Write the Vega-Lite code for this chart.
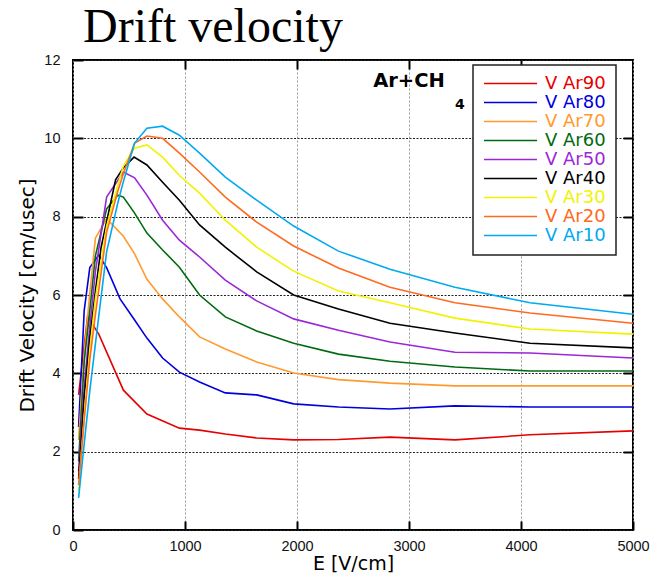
{
  "$schema": "https://vega.github.io/schema/vega-lite/v6.json",
  "width": 560,
  "height": 470,
  "autosize": {"type": "none"},
  "padding": {"left": 73, "top": 60, "right": 36, "bottom": 53},
  "background": "white",
  "title": {"text": "Drift velocity", "font": "Liberation Serif", "fontSize": 48, "fontWeight": "normal", "color": "black", "anchor": "start", "frame": "group", "dx": 10, "offset": 0},
  "config": {"view": {"stroke": "black", "strokeWidth": 2}, "font": "DejaVu Sans"},
  "datasets": {
    "drift": [
      {"series": "V Ar90", "E": 50, "v": 3.45}, {"series": "V Ar90", "E": 130, "v": 5.45}, {"series": "V Ar90", "E": 230, "v": 5.0}, {"series": "V Ar90", "E": 450, "v": 3.57}, {"series": "V Ar90", "E": 660, "v": 2.96}, {"series": "V Ar90", "E": 950, "v": 2.6}, {"series": "V Ar90", "E": 1130, "v": 2.55}, {"series": "V Ar90", "E": 1360, "v": 2.45}, {"series": "V Ar90", "E": 1640, "v": 2.35}, {"series": "V Ar90", "E": 1970, "v": 2.3}, {"series": "V Ar90", "E": 2370, "v": 2.31}, {"series": "V Ar90", "E": 2830, "v": 2.37}, {"series": "V Ar90", "E": 3410, "v": 2.3}, {"series": "V Ar90", "E": 4080, "v": 2.43}, {"series": "V Ar90", "E": 5000, "v": 2.53},
      {"series": "V Ar80", "E": 50, "v": 2.63}, {"series": "V Ar80", "E": 100, "v": 5.6}, {"series": "V Ar80", "E": 150, "v": 6.7}, {"series": "V Ar80", "E": 230, "v": 7.02}, {"series": "V Ar80", "E": 300, "v": 6.7}, {"series": "V Ar80", "E": 420, "v": 5.9}, {"series": "V Ar80", "E": 550, "v": 5.36}, {"series": "V Ar80", "E": 660, "v": 4.9}, {"series": "V Ar80", "E": 800, "v": 4.39}, {"series": "V Ar80", "E": 950, "v": 4.03}, {"series": "V Ar80", "E": 1130, "v": 3.78}, {"series": "V Ar80", "E": 1360, "v": 3.5}, {"series": "V Ar80", "E": 1640, "v": 3.45}, {"series": "V Ar80", "E": 1970, "v": 3.22}, {"series": "V Ar80", "E": 2370, "v": 3.14}, {"series": "V Ar80", "E": 2830, "v": 3.09}, {"series": "V Ar80", "E": 3410, "v": 3.17}, {"series": "V Ar80", "E": 4080, "v": 3.14}, {"series": "V Ar80", "E": 5000, "v": 3.14},
      {"series": "V Ar70", "E": 50, "v": 2.3}, {"series": "V Ar70", "E": 100, "v": 4.5}, {"series": "V Ar70", "E": 150, "v": 6.05}, {"series": "V Ar70", "E": 200, "v": 7.45}, {"series": "V Ar70", "E": 300, "v": 7.95}, {"series": "V Ar70", "E": 450, "v": 7.5}, {"series": "V Ar70", "E": 550, "v": 7.05}, {"series": "V Ar70", "E": 660, "v": 6.4}, {"series": "V Ar70", "E": 800, "v": 5.9}, {"series": "V Ar70", "E": 950, "v": 5.44}, {"series": "V Ar70", "E": 1130, "v": 4.93}, {"series": "V Ar70", "E": 1360, "v": 4.62}, {"series": "V Ar70", "E": 1640, "v": 4.29}, {"series": "V Ar70", "E": 1970, "v": 4.01}, {"series": "V Ar70", "E": 2370, "v": 3.84}, {"series": "V Ar70", "E": 2830, "v": 3.75}, {"series": "V Ar70", "E": 3410, "v": 3.68}, {"series": "V Ar70", "E": 4080, "v": 3.68}, {"series": "V Ar70", "E": 5000, "v": 3.68},
      {"series": "V Ar60", "E": 50, "v": 1.75}, {"series": "V Ar60", "E": 100, "v": 4.3}, {"series": "V Ar60", "E": 150, "v": 5.6}, {"series": "V Ar60", "E": 200, "v": 7.0}, {"series": "V Ar60", "E": 300, "v": 8.2}, {"series": "V Ar60", "E": 400, "v": 8.55}, {"series": "V Ar60", "E": 450, "v": 8.5}, {"series": "V Ar60", "E": 550, "v": 8.09}, {"series": "V Ar60", "E": 660, "v": 7.58}, {"series": "V Ar60", "E": 800, "v": 7.15}, {"series": "V Ar60", "E": 950, "v": 6.71}, {"series": "V Ar60", "E": 1130, "v": 6.0}, {"series": "V Ar60", "E": 1360, "v": 5.44}, {"series": "V Ar60", "E": 1640, "v": 5.08}, {"series": "V Ar60", "E": 1970, "v": 4.77}, {"series": "V Ar60", "E": 2370, "v": 4.49}, {"series": "V Ar60", "E": 2830, "v": 4.31}, {"series": "V Ar60", "E": 3410, "v": 4.16}, {"series": "V Ar60", "E": 4080, "v": 4.06}, {"series": "V Ar60", "E": 5000, "v": 4.06},
      {"series": "V Ar50", "E": 50, "v": 1.5}, {"series": "V Ar50", "E": 100, "v": 3.65}, {"series": "V Ar50", "E": 150, "v": 5.2}, {"series": "V Ar50", "E": 200, "v": 6.6}, {"series": "V Ar50", "E": 300, "v": 8.5}, {"series": "V Ar50", "E": 450, "v": 9.14}, {"series": "V Ar50", "E": 550, "v": 8.99}, {"series": "V Ar50", "E": 660, "v": 8.55}, {"series": "V Ar50", "E": 800, "v": 7.91}, {"series": "V Ar50", "E": 950, "v": 7.4}, {"series": "V Ar50", "E": 1130, "v": 6.97}, {"series": "V Ar50", "E": 1360, "v": 6.38}, {"series": "V Ar50", "E": 1640, "v": 5.85}, {"series": "V Ar50", "E": 1970, "v": 5.39}, {"series": "V Ar50", "E": 2370, "v": 5.1}, {"series": "V Ar50", "E": 2830, "v": 4.8}, {"series": "V Ar50", "E": 3410, "v": 4.54}, {"series": "V Ar50", "E": 4080, "v": 4.52}, {"series": "V Ar50", "E": 5000, "v": 4.39},
      {"series": "V Ar40", "E": 50, "v": 1.3}, {"series": "V Ar40", "E": 100, "v": 3.4}, {"series": "V Ar40", "E": 150, "v": 4.9}, {"series": "V Ar40", "E": 200, "v": 6.1}, {"series": "V Ar40", "E": 250, "v": 7.2}, {"series": "V Ar40", "E": 380, "v": 8.94}, {"series": "V Ar40", "E": 450, "v": 9.25}, {"series": "V Ar40", "E": 545, "v": 9.52}, {"series": "V Ar40", "E": 660, "v": 9.32}, {"series": "V Ar40", "E": 800, "v": 8.88}, {"series": "V Ar40", "E": 950, "v": 8.42}, {"series": "V Ar40", "E": 1130, "v": 7.79}, {"series": "V Ar40", "E": 1360, "v": 7.22}, {"series": "V Ar40", "E": 1640, "v": 6.59}, {"series": "V Ar40", "E": 1970, "v": 6.0}, {"series": "V Ar40", "E": 2370, "v": 5.64}, {"series": "V Ar40", "E": 2830, "v": 5.28}, {"series": "V Ar40", "E": 3410, "v": 5.03}, {"series": "V Ar40", "E": 4080, "v": 4.77}, {"series": "V Ar40", "E": 5000, "v": 4.65},
      {"series": "V Ar30", "E": 50, "v": 1.0}, {"series": "V Ar30", "E": 100, "v": 2.9}, {"series": "V Ar30", "E": 150, "v": 4.6}, {"series": "V Ar30", "E": 200, "v": 5.9}, {"series": "V Ar30", "E": 300, "v": 7.75}, {"series": "V Ar30", "E": 400, "v": 8.8}, {"series": "V Ar30", "E": 450, "v": 9.3}, {"series": "V Ar30", "E": 550, "v": 9.75}, {"series": "V Ar30", "E": 660, "v": 9.83}, {"series": "V Ar30", "E": 800, "v": 9.52}, {"series": "V Ar30", "E": 950, "v": 9.05}, {"series": "V Ar30", "E": 1130, "v": 8.6}, {"series": "V Ar30", "E": 1360, "v": 7.91}, {"series": "V Ar30", "E": 1640, "v": 7.22}, {"series": "V Ar30", "E": 1970, "v": 6.61}, {"series": "V Ar30", "E": 2370, "v": 6.1}, {"series": "V Ar30", "E": 2830, "v": 5.8}, {"series": "V Ar30", "E": 3410, "v": 5.41}, {"series": "V Ar30", "E": 4080, "v": 5.13}, {"series": "V Ar30", "E": 5000, "v": 5.0},
      {"series": "V Ar20", "E": 50, "v": 1.15}, {"series": "V Ar20", "E": 100, "v": 2.8}, {"series": "V Ar20", "E": 150, "v": 4.35}, {"series": "V Ar20", "E": 200, "v": 5.5}, {"series": "V Ar20", "E": 300, "v": 7.6}, {"series": "V Ar20", "E": 400, "v": 8.65}, {"series": "V Ar20", "E": 450, "v": 9.1}, {"series": "V Ar20", "E": 550, "v": 9.88}, {"series": "V Ar20", "E": 660, "v": 10.06}, {"series": "V Ar20", "E": 800, "v": 10.0}, {"series": "V Ar20", "E": 950, "v": 9.62}, {"series": "V Ar20", "E": 1130, "v": 9.14}, {"series": "V Ar20", "E": 1360, "v": 8.5}, {"series": "V Ar20", "E": 1640, "v": 7.86}, {"series": "V Ar20", "E": 1970, "v": 7.25}, {"series": "V Ar20", "E": 2370, "v": 6.69}, {"series": "V Ar20", "E": 2830, "v": 6.2}, {"series": "V Ar20", "E": 3410, "v": 5.8}, {"series": "V Ar20", "E": 4080, "v": 5.54}, {"series": "V Ar20", "E": 5000, "v": 5.28},
      {"series": "V Ar10", "E": 50, "v": 0.82}, {"series": "V Ar10", "E": 100, "v": 2.2}, {"series": "V Ar10", "E": 150, "v": 3.55}, {"series": "V Ar10", "E": 200, "v": 4.75}, {"series": "V Ar10", "E": 300, "v": 7.1}, {"series": "V Ar10", "E": 400, "v": 8.35}, {"series": "V Ar10", "E": 450, "v": 8.9}, {"series": "V Ar10", "E": 550, "v": 9.88}, {"series": "V Ar10", "E": 660, "v": 10.26}, {"series": "V Ar10", "E": 800, "v": 10.31}, {"series": "V Ar10", "E": 950, "v": 10.08}, {"series": "V Ar10", "E": 1130, "v": 9.62}, {"series": "V Ar10", "E": 1360, "v": 9.01}, {"series": "V Ar10", "E": 1640, "v": 8.42}, {"series": "V Ar10", "E": 1970, "v": 7.76}, {"series": "V Ar10", "E": 2370, "v": 7.12}, {"series": "V Ar10", "E": 2830, "v": 6.66}, {"series": "V Ar10", "E": 3410, "v": 6.2}, {"series": "V Ar10", "E": 4080, "v": 5.8}, {"series": "V Ar10", "E": 5000, "v": 5.51}
    ]
  },
  "layer": [
    {
      "data": {"name": "drift"},
      "mark": {"type": "line", "strokeWidth": 1.6, "clip": true},
      "encoding": {
        "x": {"field": "E", "type": "quantitative", "scale": {"domain": [0, 5000], "nice": false},
          "axis": {"orient": "bottom", "values": [0, 1000, 2000, 3000, 4000, 5000], "format": "d", "title": "E [V/cm]", "titleFont": "DejaVu Sans", "titleFontSize": 19, "titleFontWeight": "normal", "titleColor": "black", "titlePadding": 2, "labelFont": "Liberation Sans", "labelFontSize": 14.5, "labelColor": "#111", "labelPadding": 18, "labelFlush": false, "tickSize": -9, "tickWidth": 2, "tickColor": "black", "domain": false, "grid": true, "gridColor": "#999", "gridDash": [2, 2], "gridWidth": 1}},
        "y": {"field": "v", "type": "quantitative", "scale": {"domain": [0, 12], "nice": false},
          "axis": {"orient": "left", "values": [0, 2, 4, 6, 8, 10, 12], "title": "Drift Velocity [cm/usec]", "titleFont": "DejaVu Sans", "titleFontSize": 20, "titleFontWeight": "normal", "titleColor": "black", "titlePadding": 6, "labelFont": "Liberation Sans", "labelFontSize": 14.5, "labelColor": "#111", "labelPadding": 23, "labelFlush": false, "tickSize": -10, "tickWidth": 2, "tickColor": "black", "domain": false, "grid": true, "gridColor": "#222", "gridDash": [2, 1.5], "gridWidth": 1}},
        "color": {"field": "series", "type": "nominal",
          "scale": {"domain": ["V Ar90", "V Ar80", "V Ar70", "V Ar60", "V Ar50", "V Ar40", "V Ar30", "V Ar20", "V Ar10"],
                    "range": ["#e60000", "#0000dd", "#ff9a30", "#006a10", "#9a28d8", "#000000", "#f2f200", "#ff6a20", "#00aaee"]},
          "legend": {"orient": "none", "legendX": 400, "legendY": 5, "title": null, "symbolType": "stroke", "symbolSize": 2809, "symbolStrokeWidth": 1.6, "labelFont": "DejaVu Sans", "labelFontSize": 18, "labelOffset": 7, "padding": 10, "strokeColor": "#222", "fillColor": "white", "clipHeight": 17, "rowPadding": 0, "labelLimit": 200,
            "encode": {"labels": {"update": {"fill": {"scale": "color", "field": "value"}}}, "legend": {"update": {"strokeWidth": {"value": 1.5}}}}}}
      }
    },
    {
      "data": {"values": [{"E": 2680, "v": 11.3, "label": "Ar+CH"}]},
      "mark": {"type": "text", "font": "DejaVu Sans", "fontWeight": "bold", "fontSize": 19.5, "align": "left", "baseline": "alphabetic", "color": "black"},
      "encoding": {
        "x": {"field": "E", "type": "quantitative", "axis": {"orient": "top", "values": [1000, 2000, 3000, 4000], "labels": false, "title": null, "domain": false, "grid": false, "tickSize": -9, "tickWidth": 2, "tickColor": "black"}},
        "y": {"field": "v", "type": "quantitative", "axis": {"orient": "right", "values": [2, 4, 6, 8, 10], "labels": false, "title": null, "domain": false, "grid": false, "tickSize": -10, "tickWidth": 2, "tickColor": "black"}},
        "text": {"field": "label"}
      }
    },
    {
      "data": {"values": [{"E": 3410, "v": 10.75, "label": "4"}]},
      "mark": {"type": "text", "font": "DejaVu Sans", "fontWeight": "bold", "fontSize": 14, "align": "left", "baseline": "alphabetic", "color": "black"},
      "encoding": {
        "x": {"field": "E", "type": "quantitative", "axis": null},
        "y": {"field": "v", "type": "quantitative", "axis": null},
        "text": {"field": "label"}
      }
    }
  ],
  "resolve": {"axis": {"x": "independent", "y": "independent"}}
}
